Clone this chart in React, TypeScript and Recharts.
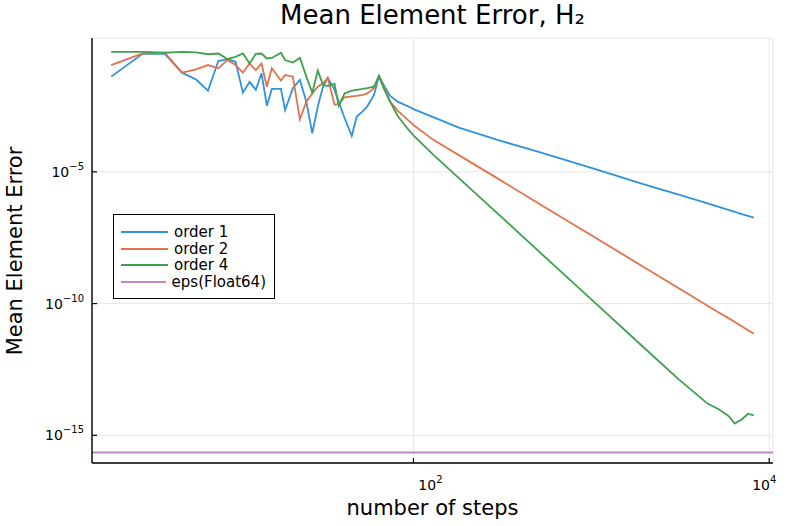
import { CartesianGrid, Legend, Line, LineChart, ReferenceLine, XAxis, YAxis } from "recharts";

// number of steps (log axis)
const steps = [
  2, 3, 4, 5, 6, 7, 8, 9, 10, 11, 12, 13, 14, 15, 16, 18, 19, 21, 23, 25, 27, 29, 31, 33, 36, 38, 41, 45,
  48, 52, 55, 60, 64, 68, 74, 82, 92, 100, 130, 180, 300, 500, 1000, 2000, 3100, 4500, 5200, 5900, 6400,
  7000, 7600, 8192,
];

const order1 = [
  4.1e-2, 3.0e-1, 3.0e-1, 5.8e-2, 3.2e-2, 1.2e-2, 1.6e-1, 1.9e-1, 1.5e-1, 1.0e-2, 2.6e-2, 1.3e-2, 5.5e-2,
  3.2e-3, 1.4e-2, 1.4e-2, 2.2e-3, 1.5e-2, 3.1e-2, 4.6e-3, 2.9e-4, 3.0e-3, 1.7e-2, 3.7e-2, 1.3e-2, 4.6e-3,
  1.1e-3, 2.3e-4, 1.25e-3, 2.0e-3, 3.0e-3, 8.3e-3, 4.3e-2, 2.0e-2, 7.6e-3, 4.5e-3, 3.2e-3, 2.4e-3, 1.16e-3,
  4.8e-4, 1.6e-4, 5.8e-5, 1.4e-5, 3.3e-6, 1.36e-6, 6.3e-7, 4.7e-7, 3.6e-7, 3.05e-7, 2.5e-7, 2.15e-7, 1.84e-7,
];

const order2 = [
  1.13e-1, 3.1e-1, 3.3e-1, 5.8e-2, 7.7e-2, 1.13e-1, 8.5e-2, 1.75e-1, 1.13e-1, 5.8e-2, 1.3e-1, 7.3e-2, 1.3e-1,
  1.7e-2, 8.5e-2, 2.9e-2, 4.7e-2, 4.1e-2, 9.9e-4, 4.6e-3, 9.5e-3, 1.7e-2, 2.3e-2, 3.7e-2, 3.5e-3, 3.8e-3,
  6.7e-3, 7.3e-3, 7.6e-3, 8.3e-3, 9.5e-3, 1.5e-2, 4.3e-2, 1.7e-2, 4.6e-3, 2.0e-3, 1.0e-3, 6.0e-4, 1.6e-4,
  4.3e-5, 5.4e-6, 6.6e-7, 3.9e-8, 2.3e-9, 3.8e-10, 8.3e-11, 4.6e-11, 2.8e-11, 2.0e-11, 1.38e-11, 9.8e-12,
  7.2e-12,
];

const order4 = [
  3.6e-1, 3.6e-1, 3.3e-1, 3.6e-1, 3.4e-1, 2.9e-1, 3.1e-1, 1.9e-1, 2.3e-1, 3.1e-1, 1.3e-1, 3.0e-1, 3.1e-1,
  2.0e-1, 2.1e-1, 3.3e-1, 1.75e-1, 1.4e-1, 2.1e-1, 4.1e-2, 1.0e-2, 6.9e-2, 2.0e-2, 1.8e-2, 2.2e-2, 3.2e-3,
  9.5e-3, 1.2e-2, 1.3e-2, 1.4e-2, 1.5e-2, 1.7e-2, 4.3e-2, 1.5e-2, 4.5e-3, 1.26e-3, 4.6e-4, 2.4e-4, 4.3e-5,
  5.8e-6, 2.5e-7, 1.04e-8, 1.44e-10, 1.97e-12, 1.32e-13, 1.6e-14, 9.7e-15, 5.4e-15, 2.8e-15, 4.0e-15,
  6.6e-15, 5.7e-15,
];

const epsFloat64 = 2.220446049250313e-16;

const seriesKeys = ["order1", "order2", "order4"];
const seriesNames = ["order 1", "order 2", "order 4", "eps(Float64)"];
const seriesColors = ["#2f92dc", "#e2714c", "#3ca24c", "#bf86c8"];

const xTicks = [100, 10000];
const yTicks = [1e-15, 1e-10, 1e-5];
// label nudges seen in the original render
const xTickLabelShift: Record<number, number> = { 100: 17, 10000: -5 };

const chartData = steps.map((s, i) => ({
  steps: s,
  order1: order1[i],
  order2: order2[i],
  order4: order4[i],
}));

const FONT = "'DejaVu Sans', sans-serif";

const expOf = (v: number) => Math.round(Math.log10(v));
const fmtExp = (e: number) => (e < 0 ? `\u2212${-e}` : `${e}`);

const XTick = ({ x, y, payload }: any) => {
  const e = expOf(payload.value);
  const cx = x + (xTickLabelShift[payload.value] ?? 0);
  return (
    <g>
      <line x1={x} x2={x} y1={y} y2={y - 5} stroke="#000" strokeWidth={1.2} />
      <text x={cx} y={y + 27} textAnchor="middle" fontFamily={FONT} fontSize={14} fill="#000">
        10
        <tspan dy={-7} fontSize={10}>
          {fmtExp(e)}
        </tspan>
      </text>
    </g>
  );
};

const YTick = ({ x, y, payload }: any) => {
  const e = expOf(payload.value);
  return (
    <g>
      <line x1={x} x2={x + 5} y1={y} y2={y} stroke="#000" strokeWidth={1.2} />
      <text x={x - 8} y={y + 5} textAnchor="end" fontFamily={FONT} fontSize={14} fill="#000">
        10
        <tspan dy={-7} fontSize={10}>
          {fmtExp(e)}
        </tspan>
      </text>
    </g>
  );
};

const LegendBox = () => (
  <div
    style={{
      border: "1.5px solid #000",
      background: "#fff",
      padding: "9px 8px 8px 7px",
      fontFamily: FONT,
      fontSize: 15,
      color: "#000",
      width: 162,
      boxSizing: "border-box",
    }}
  >
    {seriesNames.map((name, i) => (
      <div key={name} style={{ display: "flex", alignItems: "center", height: 16.5, whiteSpace: "nowrap" }}>
        <svg width={47} height={4} style={{ display: "block" }}>
          <line x1={0} x2={47} y1={2} y2={2} stroke={seriesColors[i]} strokeWidth={2} />
        </svg>
        <span style={{ marginLeft: 6, lineHeight: "16.5px" }}>{name}</span>
      </div>
    ))}
  </div>
);

export default function App() {
  return (
    <div style={{ position: "relative", width: 789, height: 526, background: "#fff", fontFamily: FONT }}>
      <style>{"body{margin:0}"}</style>
      <div
        style={{
          position: "absolute",
          left: 92,
          width: 681,
          top: 2,
          textAlign: "center",
          fontSize: 26,
          lineHeight: "26px",
          color: "#000",
        }}
      >
        Mean Element Error, H₂
      </div>
      <LineChart width={789} height={526} data={chartData} margin={{ top: 38, right: 16, bottom: 23, left: 32 }}>
        <CartesianGrid stroke="#e6e6e6" strokeWidth={1} />
        <XAxis
          dataKey="steps"
          type="number"
          scale="log"
          domain={[1.56, 10500]}
          ticks={xTicks}
          interval={0}
          allowDataOverflow
          height={40}
          axisLine={{ stroke: "#000", strokeWidth: 1.4 }}
          tickLine={false}
          tickSize={0}
          tickMargin={0}
          tick={<XTick />}
        />
        <YAxis
          type="number"
          scale="log"
          domain={[8.9e-17, 1.2]}
          ticks={yTicks}
          interval={0}
          allowDataOverflow
          width={60}
          axisLine={{ stroke: "#000", strokeWidth: 1.4 }}
          tickLine={false}
          tickSize={0}
          tickMargin={0}
          tick={<YTick />}
        />
        <ReferenceLine y={epsFloat64} stroke={seriesColors[3]} strokeWidth={2} />
        {seriesKeys.map((k, i) => (
          <Line
            key={k}
            dataKey={k}
            name={seriesNames[i]}
            type="linear"
            stroke={seriesColors[i]}
            strokeWidth={1.8}
            dot={false}
            isAnimationActive={false}
          />
        ))}
        <Legend
          layout="horizontal"
          verticalAlign="middle"
          align="center"
          content={<LegendBox />}
          wrapperStyle={{ left: 113, top: 214, width: "auto" }}
        />
      </LineChart>
      <div
        style={{
          position: "absolute",
          left: 92,
          width: 681,
          top: 498,
          textAlign: "center",
          fontSize: 21,
          lineHeight: "21px",
          color: "#000",
        }}
      >
        number of steps
      </div>
      <div
        style={{
          position: "absolute",
          left: 15,
          top: 250.5,
          transform: "translate(-50%, -50%) rotate(-90deg)",
          fontSize: 21,
          lineHeight: "21px",
          whiteSpace: "nowrap",
          color: "#000",
        }}
      >
        Mean Element Error
      </div>
    </div>
  );
}
